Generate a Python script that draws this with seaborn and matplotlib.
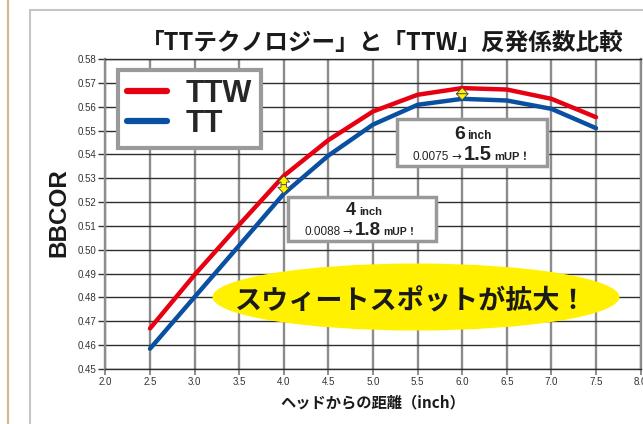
import matplotlib
matplotlib.use("Agg")
import matplotlib.pyplot as plt
import numpy as np
import pandas as pd
import seaborn as sns
from matplotlib.patches import Ellipse, Rectangle, FancyArrowPatch
from matplotlib.lines import Line2D

# ---------------- data ----------------
distance = [2.5, 3.0, 3.5, 4.0, 4.5, 5.0, 5.5, 6.0, 6.5, 7.0, 7.5]
ttw = [0.4670, 0.4895, 0.5105, 0.5310, 0.5460, 0.5580, 0.5650, 0.5678, 0.5672, 0.5633, 0.5556]
tt = [0.4585, 0.4802, 0.5018, 0.5235, 0.5395, 0.5525, 0.5608, 0.5633, 0.5626, 0.5591, 0.5510]
series_names = ["TTW", "TT"]
x_ticks = [2.0, 2.5, 3.0, 3.5, 4.0, 4.5, 5.0, 5.5, 6.0, 6.5, 7.0, 7.5, 8.0]
y_ticks = [0.45, 0.46, 0.47, 0.48, 0.49, 0.50, 0.51, 0.52, 0.53, 0.54, 0.55, 0.56, 0.57, 0.58]
title = "「TTテクノロジー」と「TTW」反発係数比較"
x_label = "ヘッドからの距離（inch）"
y_label = "BBCOR"
banner = "スウィートスポットが拡大！"

RED = "#e60012"
BLUE = "#0a50a2"
YEL = "#fff100"

df = pd.DataFrame({
    "distance": distance * 2,
    "bbcor": ttw + tt,
    "series": ["TTW"] * len(distance) + ["TT"] * len(distance),
})

sns.set_theme(style="white")
plt.rcParams["font.family"] = ["Noto Sans CJK JP", "DejaVu Sans"]

W, H = 643, 424
fig = plt.figure(figsize=(W / 100, H / 100), dpi=100)
fig.patch.set_facecolor("white")


def fx(x):
    return x / W


def fy(y):
    return 1 - y / H


ax_l, ax_r, ax_t, ax_b = 105.4, 640.6, 59, 369
ax = fig.add_axes([fx(ax_l), fy(ax_b), (ax_r - ax_l) / W, (ax_b - ax_t) / H])
ax.set_facecolor("white")

sns.lineplot(data=df, x="distance", y="bbcor", hue="series", hue_order=series_names,
             palette={"TTW": RED, "TT": BLUE}, lw=3.2, legend=False, ax=ax, zorder=3)

ax.set_xlim(2.0, 8.0)
ax.set_ylim(0.45, 0.58)
ax.set_xticks(x_ticks)
ax.set_yticks(y_ticks)
ax.set_xticklabels([f"{v:.1f}" for v in x_ticks])
ax.set_yticklabels([f"{v:.2f}" for v in y_ticks])
ax.set_axisbelow(True)
ax.grid(axis="x", color="#8c8c8c", lw=1.7)
ax.grid(axis="y", color="#2e2e2e", lw=1.0)
for s in ["left", "right"]:
    ax.spines[s].set_color("#8c8c8c")
    ax.spines[s].set_linewidth(1.7)
for s in ["top", "bottom"]:
    ax.spines[s].set_color("#2e2e2e")
    ax.spines[s].set_linewidth(1.0)
tick_font = ["Liberation Sans", "DejaVu Sans"]
ax.tick_params(axis="y", direction="out", length=5, width=1.0, color="#333333",
               labelsize=7, pad=1.5, labelcolor="#333333", left=True)
ax.tick_params(axis="x", direction="out", length=4, width=1.4, color="#8c8c8c",
               labelsize=7, pad=2, labelcolor="#333333", bottom=True)
for lab in ax.get_xticklabels() + ax.get_yticklabels():
    lab.set_family(tick_font)

ax.set_xlabel(x_label, fontsize=11, fontweight="bold", color="#1a1a1a", va="center")
ax.xaxis.set_label_coords((373 - ax_l) / (ax_r - ax_l), (ax_b - 402) / (ax_b - ax_t))
ax.set_ylabel(y_label, fontsize=17.5, fontweight="bold", color="#1a1a1a", va="center",
              family=["Liberation Sans", "DejaVu Sans"])
ax.yaxis.set_label_coords((59 - ax_l) / (ax_r - ax_l), (ax_b - 213) / (ax_b - ax_t))

# title
fig.text(fx(382), fy(43), title, ha="center", va="center", fontsize=17,
         fontweight="bold", color="#1a1a1a")

# outer frame lines
fig.add_artist(Line2D([fx(8), fx(8)], [0, 1], color="#cdb994", lw=1.5, transform=fig.transFigure))
fig.add_artist(Line2D([fx(29.5), fx(29.5)], [0, fy(10)], color="#c4c4c4", lw=1.5, transform=fig.transFigure))
fig.add_artist(Line2D([fx(29.5), 1], [fy(10), fy(10)], color="#c4c4c4", lw=1.5, transform=fig.transFigure))

# legend
handles = [Line2D([], [], color=RED, lw=4.5, label="TTW"),
           Line2D([], [], color=BLUE, lw=4.5, label="TT")]
leg = ax.legend(handles=handles, loc="upper left", bbox_to_anchor=(fx(118), fy(70)),
                bbox_transform=fig.transFigure, prop={"family": "Liberation Sans", "weight": "bold", "size": 22},
                frameon=True, fancybox=False, edgecolor="#9a9a9a", facecolor="white", framealpha=1,
                borderpad=0.3, handlelength=1.3, handletextpad=0.6, labelspacing=0.0,
                borderaxespad=0)
leg.get_frame().set_linewidth(3)
leg.set_zorder(6)

# yellow ellipse banner
ell = Ellipse(((416 - ax_l) / (ax_r - ax_l), (ax_b - 297) / (ax_b - ax_t)),
              407 / (ax_r - ax_l), 67 / (ax_b - ax_t), transform=ax.transAxes,
              facecolor=YEL, edgecolor="none", zorder=4)
ax.add_patch(ell)
ax.text((411 - ax_l) / (ax_r - ax_l), (ax_b - 301) / (ax_b - ax_t), banner, transform=ax.transAxes,
        ha="center", va="center", fontsize=19.5, fontweight="bold", color="#1a1a1a", zorder=5)

# annotation boxes
renderer = fig.canvas.get_renderer()
LAT = ["Liberation Sans", "Noto Sans CJK JP", "DejaVu Sans"]
DJV = ["DejaVu Sans"]


def box(x0, y0, x1, y1):
    r = Rectangle((fx(x0), fy(y1)), (x1 - x0) / W, (y1 - y0) / H, transform=fig.transFigure,
                  facecolor="white", edgecolor="#999999", lw=2.5, zorder=5)
    fig.add_artist(r)


def group(cx, base_y, pieces, gap=2.0):
    texts = []
    widths = []
    for s, size, bold, fam in pieces:
        t = fig.text(0, fy(base_y), s, ha="left", va="baseline", fontsize=size,
                     fontweight="bold" if bold else "normal", color="#222222",
                     family=fam, zorder=6)
        w = t.get_window_extent(renderer=renderer).width
        texts.append(t)
        widths.append(w)
    total = sum(widths) + gap * (len(widths) - 1)
    x = cx - total / 2
    for t, w in zip(texts, widths):
        t.set_x(fx(x))
        x += w + gap


box(288, 197, 436, 241)
group(364, 215, [("4", 13, True, LAT), ("inch", 8, True, LAT)], gap=2.5)
group(361, 235, [("0.0088", 8.5, False, LAT), ("→", 8.5, False, DJV),
                 ("1.8", 13.5, True, LAT), ("mUP！", 7.5, True, LAT)], gap=2.5)

box(397, 119, 547, 166)
group(473, 139, [("6", 14, True, LAT), ("inch", 8.5, True, LAT)], gap=2.5)
group(472, 160, [("0.0075", 8.5, False, LAT), ("→", 8.5, False, DJV),
                 ("1.5", 14.5, True, LAT), ("mUP！", 8, True, LAT)], gap=2.5)

# yellow double arrows
def darrow(x, y_top, y_bot):
    mid = (y_top + y_bot) / 2
    for end in (y_top, y_bot):
        a = FancyArrowPatch((x, mid), (x, end), arrowstyle="simple,head_length=4.5,head_width=8.5,tail_width=4",
                            mutation_scale=1, facecolor=YEL, edgecolor="#444444", lw=0.6,
                            shrinkA=0, shrinkB=0, zorder=7)
        ax.add_patch(a)


darrow(4.0, 0.5310, 0.5236)
darrow(6.0, 0.5680, 0.5628)

fig.savefig("out.png", dpi=100, facecolor="white")
